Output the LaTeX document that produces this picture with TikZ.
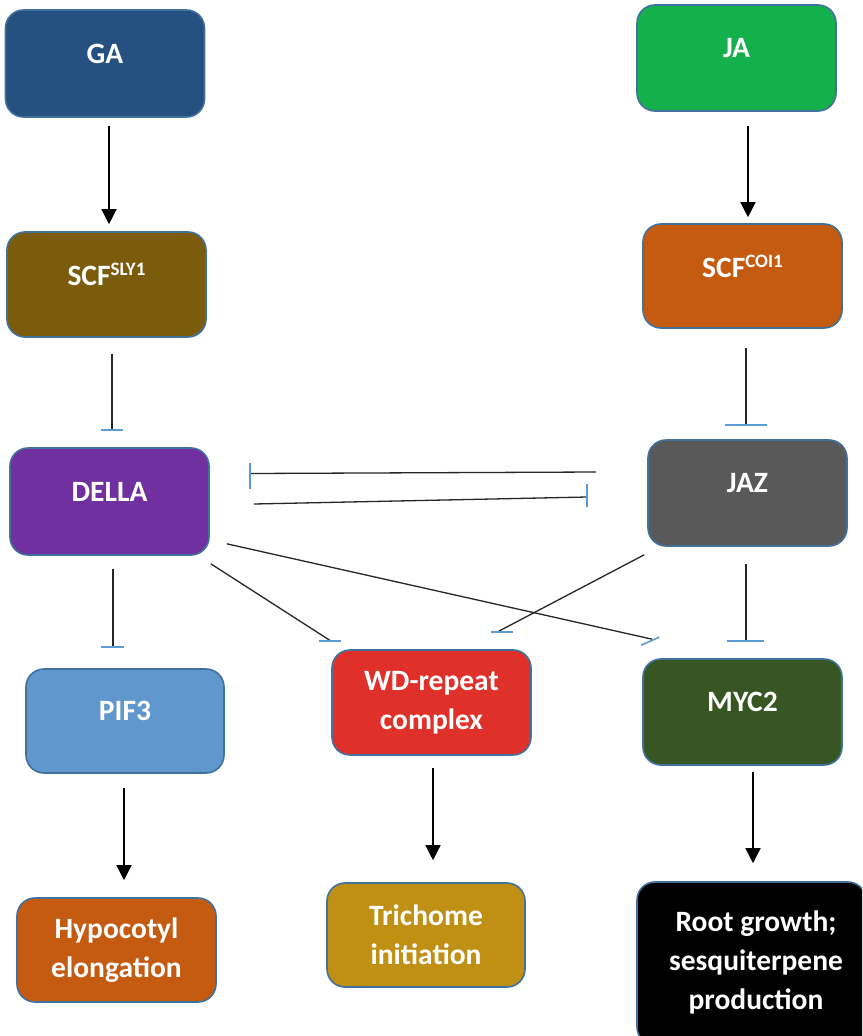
\documentclass[tikz,border=0pt]{standalone}
\usepackage{fontspec}
\setmainfont{Carlito}
\usetikzlibrary{arrows.meta}
\definecolor{boxedge}{HTML}{41719C}
\definecolor{barblue}{HTML}{5B9BD5}
\definecolor{linegray}{HTML}{262626}
\definecolor{gablue}{HTML}{24517F}
\definecolor{slybrown}{HTML}{7B5C0D}
\definecolor{dellapurple}{HTML}{7030A0}
\definecolor{pifblue}{HTML}{6097CC}
\definecolor{hyporange}{HTML}{C55A11}
\definecolor{jagreen}{HTML}{14B04B}
\definecolor{coiorange}{HTML}{C55A11}
\definecolor{jazgray}{HTML}{595959}
\definecolor{wdred}{HTML}{E0302A}
\definecolor{mycgreen}{HTML}{375623}
\definecolor{trigold}{HTML}{BF9013}
\begin{document}
\begin{tikzpicture}[x=1pt,y=-1pt,
  box/.style={draw=boxedge, line width=1.6pt, rounded corners=18pt,
    minimum width=199pt, minimum height=105pt, inner sep=0pt},
  lbl/.style={text=white, font=\fontsize{29.5}{39}\selectfont\bfseries, align=center},
  one/.style={label={[lbl, yshift=10pt]center:#1}},
  act/.style={draw=black, line width=1.3pt, -{Triangle[width=15pt,length=15pt]}},
  inh/.style={draw=linegray, line width=1.3pt},
  barline/.style={draw=barblue, line width=1.6pt}
]
\path[use as bounding box, fill=white] (0,0) rectangle (862,1036);

% left column
\node[box, fill=gablue, minimum height=107pt, one=GA] (ga) at (105,63.5) {};
\node[box, fill=slybrown, one={SCF\raisebox{10pt}{\fontsize{19}{19}\selectfont SLY1}}] (scfs) at (106.5,284.5) {};
\node[box, fill=dellapurple, minimum height=107pt, one=DELLA] (della) at (109.5,501.5) {};
\node[box, fill=pifblue, minimum width=198pt, minimum height=104pt, one=PIF3] (pif) at (125,721) {};
\node[box, fill=hyporange, minimum height=104pt, lbl] (hyp) at (116.5,950) {Hypocotyl\\elongation};

% right column
\node[box, fill=jagreen, minimum height=106pt, one=JA] (ja) at (736.5,58) {};
\node[box, fill=coiorange, minimum height=104pt, one={SCF\raisebox{10pt}{\fontsize{19}{19}\selectfont COI1}}] (scfc) at (742.5,276) {};
\node[box, fill=jazgray, minimum height=106pt, one=JAZ] (jaz) at (747.5,493) {};
\node[box, fill=mycgreen, minimum height=106pt, one=MYC2] (myc) at (742.5,712) {};
\begin{scope}
  \clip (0,0) rectangle (862,1036);
  \node[box, fill=black, minimum width=229pt, minimum height=163pt, lbl] (root) at (751.5,963.5) {};
\end{scope}
\node[lbl] (roott) at (756,962) {Root growth;\\sesquiterpene\\production};

% middle
\node[box, fill=wdred, lbl] (wd) at (431.5,702.5) {WD-repeat\\complex};
\node[box, fill=trigold, minimum width=198pt, minimum height=104pt, lbl] (tri) at (426,935) {Trichome\\initiation};

% activations
\draw[act, shorten <=8pt, shorten >=7pt] ([xshift=4]ga.south) -- ([xshift=4]ga.south |- scfs.north);
\draw[act, shorten <=14pt, shorten >=6pt] ([xshift=11.5]ja.south) -- ([xshift=11.5]ja.south |- scfc.north);
\draw[act, shorten <=14pt, shorten >=17pt] ([xshift=-1]pif.south) -- ([xshift=-1]pif.south |- hyp.north);
\draw[act, shorten <=12pt, shorten >=22pt] ([xshift=1.5]wd.south) -- ([xshift=1.5]wd.south |- tri.north);
\draw[act, shorten <=6pt, shorten >=18pt] ([xshift=10.5]myc.south) -- ([xshift=10.5]myc.south |- root.north);

% inhibitions
\coordinate (b1) at ([shift={(2.5,-17)}]della.north);
\draw[inh, shorten <=16pt] (scfs.south -| b1) -- (b1);
\draw[barline] ([xshift=-11]b1) -- ([xshift=11]b1);

\coordinate (b2) at ([shift={(-1.5,-14)}]jaz.north);
\draw[inh, shorten <=19pt] (scfc.south -| b2) -- (b2);
\draw[barline] ([xshift=-21]b2) -- ([xshift=21]b2);

\coordinate (b3) at ([shift={(40,-28)}]della.east);
\draw[inh] ([shift={(-51,-21)}]jaz.west) -- (b3);
\draw[barline] ([yshift=-15]b3) -- ([yshift=11]b3);

\coordinate (b4) at ([shift={(-60,4)}]jaz.west);
\draw[inh] ([shift={(44,2.5)}]della.east) -- (b4);
\draw[barline] ([yshift=-10]b4) -- ([yshift=13]b4);

\coordinate (b5) at ([shift={(-12,-21)}]pif.north);
\draw[inh, shorten <=13pt] (della.south -| b5) -- (b5);
\draw[barline] ([xshift=-12]b5) -- ([xshift=11]b5);

\coordinate (b6) at ([shift={(0,-8)}]wd.north west);
\draw[inh] ([shift={(1,8)}]della.south east) -- (b6);
\draw[barline] ([xshift=-12]b6) -- ([xshift=10]b6);

\coordinate (b7) at ([shift={(10,-19)}]myc.north west);
\draw[inh] ([shift={(17,-12)}]della.south east) -- (b7);
\draw[barline] ([shift={(-11,6)}]b7) -- ([shift={(7,-2)}]b7);

\coordinate (b8) at ([shift={(-33,-18)}]wd.north east);
\draw[inh] ([shift={(-3,8)}]jaz.south west) -- (b8);
\draw[barline] ([shift={(-8,1)}]b8) -- ([shift={(14,1)}]b8);

\coordinate (b9) at ([shift={(3.5,-17)}]myc.north);
\draw[inh, shorten <=17pt] (jaz.south -| b9) -- (b9);
\draw[barline] ([xshift=-19]b9) -- ([xshift=18]b9);
\end{tikzpicture}
\end{document}
